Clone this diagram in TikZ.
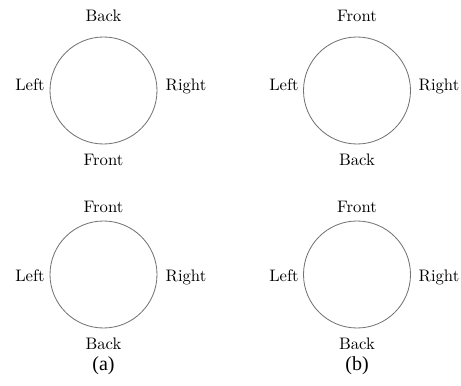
\documentclass[tikz,border=0pt]{standalone}
\usepackage{fontspec}
\newfontfamily\capfont{Liberation Serif}
\begin{document}
\begin{tikzpicture}[x=0.6pt,y=-0.6pt,
  ring/.style={circle,draw=black!55,line width=0.5pt,minimum size=64.2pt,inner sep=0pt},
  lab/.style={anchor=base,inner sep=0pt,font=\fontsize{10}{12}\selectfont},
  captext/.style={anchor=base,inner sep=0pt,font=\capfont\fontsize{12}{14}\selectfont}]
\path[use as bounding box] (0,0) rectangle (461,385);
% top-left
\node[ring] (c1) at (103.5,90.5) {};
\node[lab] (c1t) at (103.5,21) {Back};
\node[lab] (c1b) at (103.5,165) {Front};
\node[lab] (c1l) at (30,90.5) {Left};
\node[lab] (c1r) at (186,90.5) {Right};
% top-right
\node[ring] (c2) at (357,90.5) {};
\node[lab] (c2t) at (357,21) {Front};
\node[lab] (c2b) at (357,165) {Back};
\node[lab] (c2l) at (284,90.5) {Left};
\node[lab] (c2r) at (439,90.5) {Right};
% bottom-left
\node[ring] (c3) at (103.5,274.5) {};
\node[lab] (c3t) at (103.5,212) {Front};
\node[lab] (c3b) at (103.5,349) {Back};
\node[lab] (c3l) at (30,281) {Left};
\node[lab] (c3r) at (186,281) {Right};
% bottom-right
\node[ring] (c4) at (357,274.5) {};
\node[lab] (c4t) at (357,212) {Front};
\node[lab] (c4b) at (357,349) {Back};
\node[lab] (c4l) at (284,281) {Left};
\node[lab] (c4r) at (439,281) {Right};
% captions
\node[captext] (capa) at (103.5,370) {(a)};
\node[captext] (capb) at (357,370) {(b)};
\end{tikzpicture}
\end{document}
